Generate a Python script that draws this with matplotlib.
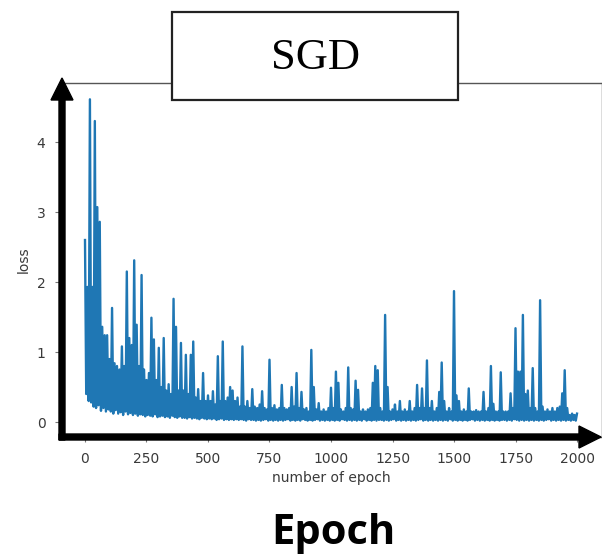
'''SGD loss per epoch, annotated with axis arrows'''
import numpy as np
import matplotlib.pyplot as plt
from matplotlib.patches import FancyArrow, Rectangle

# upper envelope of the loss curve, one value every 10 epochs (0 .. 2000)
upper_epochs = list(range(0, 2001, 10))
upper_loss = [
    2.60, 1.93, 4.61, 1.93, 4.30, 3.07, 2.86, 1.36, 1.24, 1.24,
    0.90, 1.63, 0.84, 0.80, 0.75, 1.08, 0.80, 2.15, 1.20, 1.10,
    2.31, 1.39, 0.80, 2.10, 0.75, 0.60, 0.70, 1.49, 1.18, 0.60,
    1.06, 0.50, 1.20, 0.45, 0.54, 0.40, 1.76, 1.36, 0.45, 1.13,
    0.45, 0.96, 0.40, 0.96, 1.15, 0.35, 0.47, 0.30, 0.70, 0.30,
    0.38, 0.30, 0.44, 0.25, 0.94, 0.30, 1.15, 0.30, 0.35, 0.50,
    0.45, 0.30, 0.35, 0.22, 1.08, 0.22, 0.30, 0.20, 0.47, 0.22,
    0.20, 0.25, 0.44, 0.20, 0.18, 0.89, 0.20, 0.24, 0.18, 0.20,
    0.53, 0.20, 0.18, 0.20, 0.50, 0.22, 0.70, 0.20, 0.43, 0.18,
    0.20, 0.15, 1.03, 0.50, 0.18, 0.27, 0.15, 0.18, 0.15, 0.20,
    0.49, 0.20, 0.72, 0.56, 0.18, 0.15, 0.20, 0.78, 0.20, 0.18,
    0.59, 0.46, 0.15, 0.18, 0.15, 0.18, 0.20, 0.56, 0.80, 0.74,
    0.20, 0.15, 1.53, 0.50, 0.15, 0.18, 0.25, 0.15, 0.30, 0.15,
    0.18, 0.15, 0.30, 0.15, 0.20, 0.53, 0.20, 0.48, 0.20, 0.88,
    0.20, 0.30, 0.15, 0.20, 0.43, 0.85, 0.30, 0.15, 0.20, 0.15,
    1.87, 0.38, 0.30, 0.15, 0.18, 0.15, 0.48, 0.15, 0.15, 0.17,
    0.15, 0.15, 0.43, 0.15, 0.20, 0.80, 0.26, 0.15, 0.15, 0.71,
    0.15, 0.15, 0.15, 0.41, 0.20, 1.34, 0.72, 0.72, 1.53, 0.40,
    0.45, 0.20, 0.77, 0.20, 0.15, 1.74, 0.22, 0.15, 0.18, 0.15,
    0.20, 0.15, 0.20, 0.22, 0.41, 0.74, 0.20, 0.10, 0.12, 0.10,
    0.12,
]

# lower envelope, one value every 10 epochs (5 .. 1995)
lower_epochs = list(range(5, 2000, 10))
lower_loss = [
    0.40, 0.30, 0.28, 0.22, 0.20, 0.24, 0.16, 0.20, 0.15, 0.18,
    0.15, 0.12, 0.17, 0.12, 0.14, 0.10, 0.15, 0.11, 0.13, 0.10,
    0.12, 0.09, 0.11, 0.10, 0.08, 0.10, 0.09, 0.08, 0.11, 0.07,
    0.08, 0.09, 0.07, 0.08, 0.06, 0.09, 0.07, 0.06, 0.08, 0.06,
    0.06, 0.05, 0.07, 0.05, 0.06, 0.05, 0.04, 0.06, 0.05, 0.04,
    0.05, 0.04, 0.05, 0.03, 0.04, 0.05, 0.03, 0.04, 0.03, 0.04,
    0.03, 0.04, 0.03, 0.04, 0.03, 0.02, 0.04, 0.03, 0.03, 0.02,
    0.03, 0.02, 0.03, 0.04, 0.02, 0.03, 0.02, 0.03, 0.02, 0.03,
    0.02, 0.03, 0.04, 0.02, 0.03, 0.02, 0.03, 0.02, 0.04, 0.03,
    0.02, 0.03, 0.02, 0.03, 0.04, 0.02, 0.03, 0.02, 0.03, 0.02,
    0.03, 0.02, 0.03, 0.02, 0.04, 0.03, 0.02, 0.03, 0.02, 0.03,
    0.02, 0.03, 0.02, 0.04, 0.02, 0.03, 0.02, 0.03, 0.02, 0.03,
    0.03, 0.02, 0.03, 0.02, 0.03, 0.04, 0.02, 0.03, 0.02, 0.03,
    0.02, 0.03, 0.02, 0.03, 0.02, 0.03, 0.04, 0.02, 0.03, 0.02,
    0.03, 0.02, 0.03, 0.02, 0.03, 0.02, 0.03, 0.02, 0.04, 0.02,
    0.03, 0.02, 0.03, 0.02, 0.03, 0.02, 0.03, 0.04, 0.02, 0.03,
    0.02, 0.03, 0.02, 0.03, 0.02, 0.03, 0.02, 0.03, 0.02, 0.03,
    0.03, 0.02, 0.03, 0.02, 0.04, 0.03, 0.02, 0.03, 0.02, 0.03,
    0.02, 0.03, 0.02, 0.03, 0.02, 0.03, 0.02, 0.03, 0.04, 0.02,
    0.03, 0.02, 0.03, 0.02, 0.03, 0.02, 0.03, 0.02, 0.03, 0.02,
]

x_ticks = [0, 250, 500, 750, 1000, 1250, 1500, 1750, 2000]
y_ticks = [0, 1, 2, 3, 4]

W, H = 602, 558


def fx(px):
    return px / W


def fy(py):
    return (H - py) / H


def plot_loss():
    '''Loss curve with big black axis arrows and a boxed title'''
    epochs = np.array(upper_epochs + lower_epochs)
    loss = np.array(upper_loss + lower_loss)
    order = np.argsort(epochs)

    fig = plt.figure(figsize=(W / 100, H / 100), dpi=100)
    ax = fig.add_axes([fx(60), fy(437), fx(602) - fx(60), fy(83) - fy(437)])
    ax.plot(epochs[order], loss[order], color='#1f77b4', linewidth=1.7)
    ax.set_xlim(-101.6, 2101.6)
    ax.set_ylim(-0.214, 4.843)
    ax.set_xticks(x_ticks)
    ax.set_yticks(y_ticks)
    ax.tick_params(labelsize=10, labelcolor='#3a3a3a', color='#777777',
                   pad=7)
    for spine in ax.spines.values():
        spine.set_color('#555555')
        spine.set_linewidth(1.0)
    ax.set_ylabel('loss', fontsize=10, color='#3a3a3a')
    ax.set_xlabel('number of epoch', fontsize=10, color='#3a3a3a')

    inch = fig.dpi_scale_trans
    fig.add_artist(FancyArrow(0.62, (H - 440) / 100, 0, 3.62, width=0.06,
                              head_width=0.22, head_length=0.22,
                              length_includes_head=True, color='black',
                              transform=inch, zorder=5))
    fig.add_artist(FancyArrow(0.59, (H - 437) / 100, 5.42, 0, width=0.06,
                              head_width=0.22, head_length=0.22,
                              length_includes_head=True, color='black',
                              transform=inch, zorder=5))

    fig.add_artist(Rectangle((fx(172), fy(100)), fx(458) - fx(172),
                             fy(12) - fy(100), transform=fig.transFigure,
                             facecolor='white', edgecolor='#222222',
                             linewidth=1.6, zorder=6))
    fig.text(fx(315), fy(58), 'SGD', family='Liberation Serif', fontsize=32,
             ha='center', va='center', zorder=7)
    fig.text(fx(333), fy(534), 'Epoch', family='Open Sans', weight='bold',
             fontsize=30, ha='center', va='center')

    fig.savefig('out.png', dpi=100)


plot_loss()
